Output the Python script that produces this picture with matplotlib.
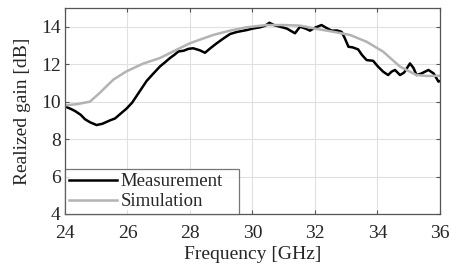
import matplotlib
matplotlib.use("Agg")
import matplotlib.pyplot as plt

meas_f = [24.0, 24.05, 24.2, 24.32, 24.5, 24.64, 24.8, 25.01, 25.2, 25.44, 25.6, 25.76, 25.97,
          26.15, 26.29, 26.45, 26.61, 26.8, 27.04, 27.2, 27.36, 27.5, 27.63, 27.8, 27.95,
          28.1, 28.3, 28.48, 28.65, 28.85, 29.05, 29.28, 29.5, 29.81, 30.0, 30.24, 30.4,
          30.54, 30.7, 30.88, 31.1, 31.36, 31.52, 31.7, 31.84, 32.0, 32.21, 32.35, 32.53,
          32.7, 32.85, 32.95, 33.07, 33.2, 33.38, 33.5, 33.65, 33.86, 34.0, 34.18, 34.34,
          34.45, 34.56, 34.72, 34.85, 35.04, 35.15, 35.25, 35.4, 35.63, 35.8, 35.95, 36.0]
meas_g = [9.8, 9.71, 9.6, 9.5, 9.3, 9.06, 8.9, 8.75, 8.82, 9.0, 9.1, 9.33, 9.63,
          9.95, 10.3, 10.7, 11.1, 11.45, 11.88, 12.1, 12.33, 12.5, 12.68, 12.72, 12.82,
          12.85, 12.75, 12.61, 12.85, 13.11, 13.35, 13.61, 13.72, 13.82, 13.9, 13.97, 14.05,
          14.21, 14.08, 14.0, 13.9, 13.65, 14.0, 13.9, 13.79, 13.95, 14.09, 13.95, 13.79,
          13.8, 13.73, 13.4, 12.93, 12.9, 12.79, 12.5, 12.22, 12.18, 11.9, 11.6, 11.42,
          11.6, 11.69, 11.42, 11.55, 12.04, 11.8, 11.42, 11.5, 11.69, 11.5, 11.07, 11.1]

sim_f = [24.0, 24.4, 24.8, 25.12, 25.55, 25.97, 26.5, 27.04, 27.57, 28.0, 28.74, 29.3,
         29.81, 30.45, 31.0, 31.52, 32.0, 32.59, 33.12, 33.65, 34.18, 34.72, 35.25, 35.6, 36.0]
sim_g = [9.8, 9.87, 10.0, 10.48, 11.18, 11.62, 12.03, 12.33, 12.77, 13.12, 13.56, 13.8,
         13.97, 14.09, 14.09, 14.06, 13.9, 13.73, 13.56, 13.2, 12.67, 11.87, 11.42, 11.37, 11.38]

x_ticks = [24, 26, 28, 30, 32, 34, 36]
y_ticks = [4, 6, 8, 10, 12, 14]

plt.rcParams['font.family'] = ['Liberation Serif', 'DejaVu Serif']
fig = plt.figure(figsize=(4.52, 2.73), dpi=100)
ax = fig.add_axes([65/452, 1 - 214/273, 375/452, 206/273])

ax.plot(meas_f, meas_g, color='black', lw=1.8, label='Measurement')
ax.plot(sim_f, sim_g, color='#b3b3b3', lw=1.8, label='Simulation')

ax.set_xlim(24, 36)
ax.set_ylim(4, 15)
ax.set_xticks(x_ticks)
ax.set_yticks(y_ticks)
ax.grid(True, color='#e0e0e0', lw=0.8)
ax.set_axisbelow(True)
for s in ax.spines.values():
    s.set_color('#555555')
    s.set_linewidth(0.9)
ax.tick_params(direction='in', top=True, right=True, length=3, width=0.8,
               colors='#555555', labelcolor='#262626', labelsize=14)
ax.tick_params(axis='x', pad=8)
ax.tick_params(axis='y', pad=3)
ax.set_xlabel('Frequency [GHz]', fontsize=14, color='#262626', labelpad=3)
ax.set_ylabel('Realized gain [dB]', fontsize=14, color='#262626', labelpad=7)

leg = ax.legend(loc='lower left', fontsize=13.5, frameon=True, fancybox=False,
                bbox_to_anchor=(0, 0, (239 - 65) / 375, 0.2), mode='expand',
                borderaxespad=0, handlelength=2.6, handletextpad=0.15,
                borderpad=0.2, labelspacing=0.15)
leg.get_frame().set_edgecolor('#555555')
leg.get_frame().set_linewidth(0.9)
for t in leg.get_texts():
    t.set_color('#262626')

fig.savefig('out.png', dpi=100)
